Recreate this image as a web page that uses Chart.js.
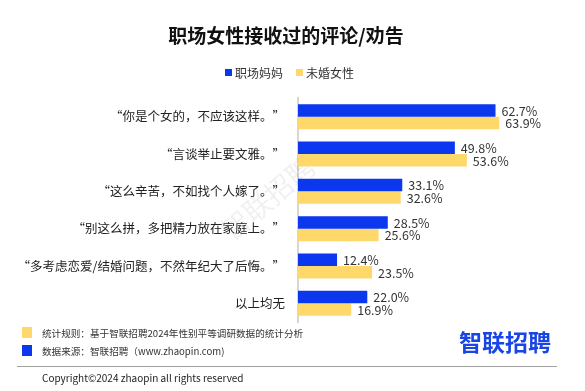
<!DOCTYPE html>
<html>
<head>
<meta charset="utf-8">
<script src="https://cdn.jsdelivr.net/npm/chart.js@4/dist/chart.umd.min.js"></script>
<style>
  html, body { margin: 0; padding: 0; background: #fff; }
  #wrap { width: 585px; height: 391px; position: relative; }
</style>
</head>
<body>
<div id="wrap"><canvas id="myChart" width="585" height="391"></canvas></div>
<script>
/* 数据 */
var categories = [
	'“你是个女的，不应该这样。”',
	'“言谈举止要文雅。”',
	'“这么辛苦，不如找个人嫁了。”',
	'“别这么拼，多把精力放在家庭上。”',
	'“多考虑恋爱/结婚问题，不然年纪大了后悔。”',
	'以上均无'
];
var seriesNames = ['职场妈妈', '未婚女性'];
var momValues = [62.7, 49.8, 33.1, 28.5, 12.4, 22.0];
var singleValues = [63.9, 53.6, 32.6, 25.6, 23.5, 16.9];

var FONT = '"Noto Sans CJK SC", "Microsoft YaHei", sans-serif';
var BLUE = '#0b37ee';
var YELLOW = '#ffd86c';

/* 水印 */
var watermarkPlugin = {
	id: 'watermark',
	beforeDatasetsDraw: function(chart) {
		var ctx = chart.ctx;
		ctx.save();
		ctx.translate(268, 198);
		ctx.rotate(-40 * Math.PI / 180);
		ctx.font = '28px ' + FONT;
		ctx.fillStyle = 'rgba(0,0,0,0.06)';
		ctx.textAlign = 'center';
		ctx.textBaseline = 'middle';
		ctx.fillText('智联招聘', 0, 0);
		ctx.restore();
	}
};

/* 数值标签 */
var valueLabelPlugin = {
	id: 'valueLabels',
	afterDatasetsDraw: function(chart) {
		var ctx = chart.ctx;
		ctx.save();
		ctx.font = '12.5px ' + FONT;
		ctx.fillStyle = '#333';
		ctx.textAlign = 'left';
		ctx.textBaseline = 'middle';
		chart.data.datasets.forEach(function(ds, di) {
			var meta = chart.getDatasetMeta(di);
			meta.data.forEach(function(bar, i) {
				ctx.fillText(ds.data[i].toFixed(1) + '%', bar.x + 6, bar.y + 0.5);
			});
		});
		ctx.restore();
	}
};

/* 标题, 图例, 页脚 */
var decorPlugin = {
	id: 'decor',
	afterDraw: function(chart) {
		var ctx = chart.ctx;
		var ds = chart.data.datasets;
		ctx.save();
		// 标题
		ctx.font = 'bold 19px ' + FONT;
		ctx.fillStyle = '#111';
		ctx.textAlign = 'center';
		ctx.textBaseline = 'middle';
		ctx.fillText('职场女性接收过的评论/劝告', 286, 36);

		// 图例
		ctx.font = '12px ' + FONT;
		ctx.textAlign = 'left';
		var lx = [225, 296];
		ds.forEach(function(d, i) {
			ctx.fillStyle = d.backgroundColor;
			ctx.fillRect(lx[i], 69, 7, 7);
			ctx.fillStyle = '#333';
			ctx.fillText(d.label, lx[i] + 10, 73);
		});

		// 页脚
		ctx.fillStyle = YELLOW;
		ctx.fillRect(22, 327, 10, 11);
		ctx.fillStyle = BLUE;
		ctx.fillRect(22, 345, 10, 11);
		ctx.font = '9.6px ' + FONT;
		ctx.fillStyle = '#333';
		ctx.fillText('统计规则：基于智联招聘2024年性别平等调研数据的统计分析', 42, 333);
		ctx.fillText('数据来源：智联招聘（www.zhaopin.com)', 42, 351);
		ctx.font = '10px ' + FONT;
		ctx.fillStyle = '#222';
		ctx.fillText('Copyright©2024 zhaopin all rights reserved', 42, 378);

		ctx.strokeStyle = '#a0a0a0';
		ctx.lineWidth = 1;
		ctx.beginPath();
		ctx.moveTo(17, 366.5);
		ctx.lineTo(557, 366.5);
		ctx.stroke();

		// logo
		ctx.font = 'bold 23px ' + FONT;
		ctx.fillStyle = '#1a45e6';
		ctx.fillText('智联招聘', 459, 342);
		ctx.restore();
	}
};

function createChart() {
	var ctx = document.getElementById('myChart').getContext('2d');
	var myChart = new Chart(ctx, {
		type: 'bar',
		data: {
			labels: categories,
			datasets: [{
				label: seriesNames[0],
				data: momValues,
				backgroundColor: BLUE,
				barPercentage: 1,
				categoryPercentage: 0.67
			}, {
				label: seriesNames[1],
				data: singleValues,
				backgroundColor: YELLOW,
				barPercentage: 1,
				categoryPercentage: 0.67
			}]
		},
		options: {
			indexAxis: 'y',
			responsive: false,
			animation: false,
			layout: {
				padding: { top: 98, bottom: 69, left: 0, right: 35 }
			},
			plugins: {
				legend: { display: false },
				title: { display: false },
				tooltip: { enabled: false }
			},
			scales: {
				x: {
					display: false,
					min: 0,
					max: 80
				},
				y: {
					afterFit: function(scale) { scale.width = 298; },
					grid: { display: false, drawTicks: false },
					border: { display: true, color: '#d6d6d6', width: 2 },
					ticks: {
						padding: 13,
						color: '#222',
						font: { family: FONT, size: 12.5 }
					}
				}
			}
		},
		plugins: [watermarkPlugin, valueLabelPlugin, decorPlugin]
	});
}

createChart();
</script>
</body>
</html>
